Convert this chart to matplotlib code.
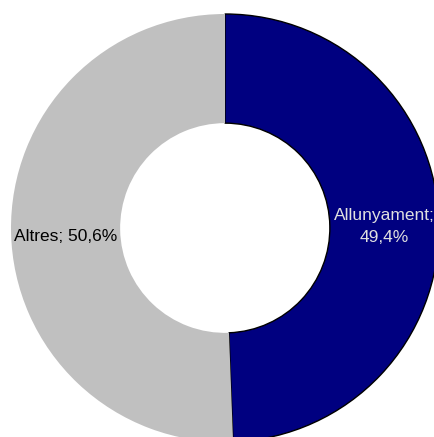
import numpy as np
import matplotlib
matplotlib.use("Agg")
import matplotlib.pyplot as plt

# --- Data ---
CATEGORIES = ["Allunyament", "Altres"]
SHARES = [49.4, 50.6]
COLORS = ["#000080", "#C0C0C0"]
LABEL_COLORS = ["#E0E0E0", "#000000"]

# --- Layout (pixels) ---
W, H = 434, 437
CX, CY = 225, 228      # ring centre, pixels from top-left
R_PX = 214             # outer radius in pixels
HOLE = 0.49            # inner radius / outer radius


def main():
    plt.rcParams['font.family'] = ['Liberation Sans', 'DejaVu Sans']
    fig = plt.figure(figsize=(W / 100, H / 100), dpi=100)
    ax = fig.add_axes([0, 0, 1, 1])
    ax.set_axis_off()

    wedges, _ = ax.pie(
        SHARES,
        colors=COLORS,
        startangle=90,
        counterclock=False,
        radius=1.0,
        wedgeprops=dict(width=1 - HOLE, linewidth=0),
    )
    # only the navy slice has a black outline
    wedges[0].set_edgecolor("black")
    wedges[0].set_linewidth(1.0)

    r_lab = (1 + HOLE) / 2
    for w, cat, val, col in zip(wedges, CATEGORIES, SHARES, LABEL_COLORS):
        ang = np.deg2rad((w.theta1 + w.theta2) / 2)
        x, y = r_lab * np.cos(ang), r_lab * np.sin(ang)
        pct = f"{val:.1f}%".replace(".", ",")
        if cat == "Allunyament":
            txt, dy = f"{cat};\n{pct}", -1
        else:
            txt, dy = f"{cat}; {pct}", -4
        ax.annotate(txt, (x, y), xytext=(0, dy), textcoords="offset points",
                    ha="center", va="center", color=col,
                    fontsize=12.5, linespacing=1.55)

    ax.set_aspect("equal")
    ax.set_xlim(-CX / R_PX, (W - CX) / R_PX)
    ax.set_ylim(-(H - CY) / R_PX, CY / R_PX)

    fig.savefig("out.png", dpi=100, facecolor="white")


if __name__ == "__main__":
    main()
